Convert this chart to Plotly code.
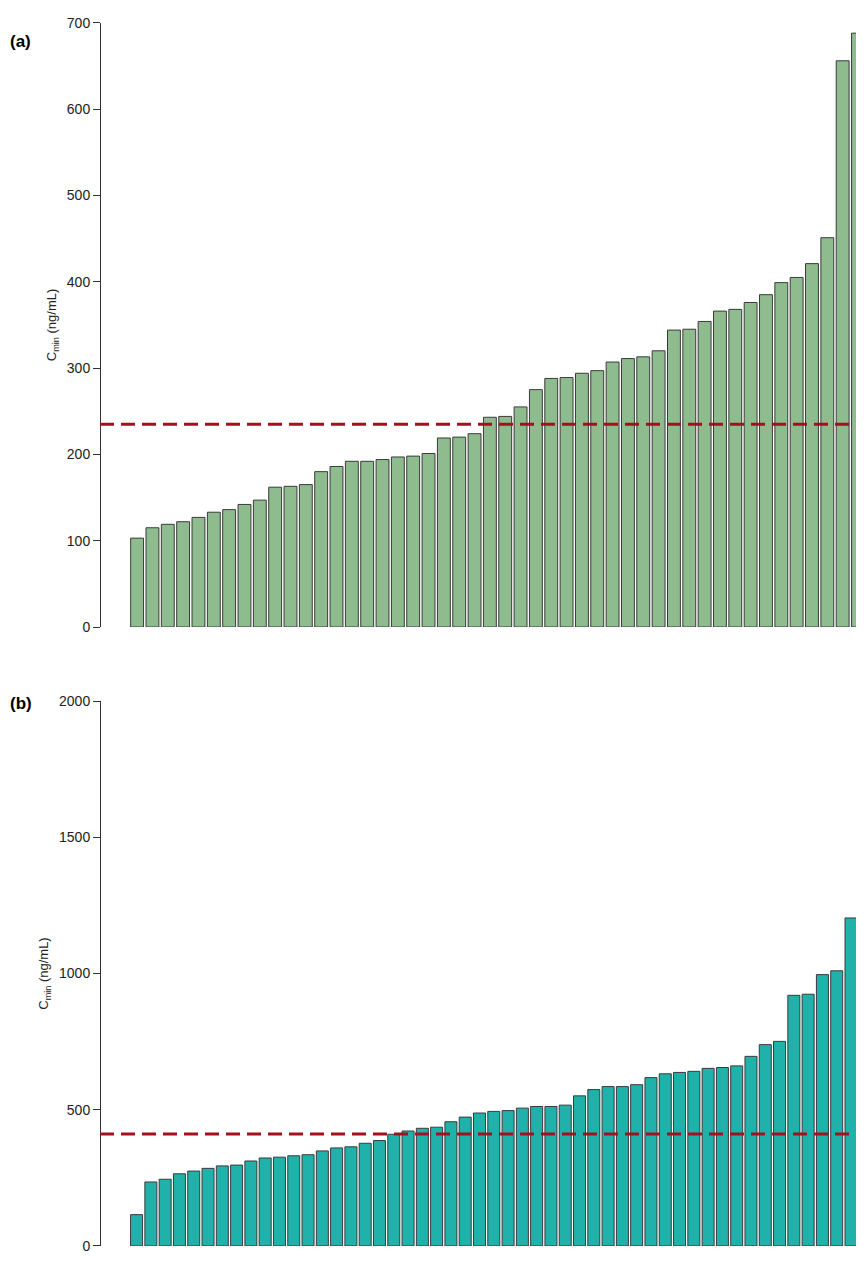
import plotly.graph_objects as go

cmin_a = [103, 115, 119, 122, 127, 133, 136, 142, 147, 162, 163, 165, 180, 186, 192, 192,
          194, 197, 198, 201, 219, 220, 224, 243, 244, 255, 275, 288, 289, 294, 297, 307,
          311, 313, 320, 344, 345, 354, 366, 368, 376, 385, 399, 405, 421, 451, 656, 688]
cmin_b = [115, 235, 245, 265, 275, 285, 294, 297, 312, 323, 326, 331, 335, 349, 360, 364,
          377, 387, 410, 422, 432, 436, 456, 473, 488, 494, 497, 506, 512, 512, 517, 551,
          574, 585, 585, 592, 618, 632, 637, 641, 652, 655, 661, 696, 739, 751, 920, 924,
          996, 1010, 1204]
thr_a = 235
thr_b = 411

W, H = 848, 1246


def py(s):
    # screen pixel row -> paper fraction (page margin and slight scaling measured)
    return 1 - (s - 16.2) / 0.9868 / H


fig = go.Figure()
fig.add_trace(go.Bar(x=list(range(1, len(cmin_a) + 1)), y=cmin_a, width=0.84,
                     marker=dict(color="#8FBC8F", line=dict(color="#3a3a3a", width=1)),
                     xaxis="x", yaxis="y"))
fig.add_trace(go.Bar(x=list(range(1, len(cmin_b) + 1)), y=cmin_b, width=0.84,
                     marker=dict(color="#20B2AA", line=dict(color="#3a3a3a", width=1)),
                     xaxis="x2", yaxis="y2"))

for xa, ya, thr in [("x", "y", thr_a), ("x2", "y2", thr_b)]:
    fig.add_shape(type="line", xref=xa + " domain", yref=ya, x0=0, x1=1, y0=thr, y1=thr,
                  line=dict(color="#A50F1E", width=3, dash="14px,7px"))

fam = "Liberation Sans, Arial"
font = dict(family=fam, size=14, color="#222")
yax = dict(showgrid=False, zeroline=False, showline=True, linecolor="#333", ticks="outside",
           ticklen=7, tickcolor="#333", tickfont=font, anchor="free", position=0,
           title=dict(text="C<sub>min</sub> (ng/mL)", font=dict(family=fam, size=13, color="#222"), standoff=6))
xax = dict(showgrid=False, zeroline=False, showline=False, showticklabels=False, ticks="")

fig.update_layout(
    width=W, height=H, margin=dict(l=92, r=0, t=0, b=0),
    plot_bgcolor="white", paper_bgcolor="white", showlegend=False,
    xaxis=dict(xax, domain=[0, 1], range=[-1.42, 47.87], anchor="y"),
    xaxis2=dict(xax, domain=[0, 1], range=[-1.56, 51.35], anchor="y2"),
    yaxis=dict(yax, domain=[py(627), py(23)], range=[0, 700], dtick=100),
    yaxis2=dict(yax, domain=[max(py(1250), 0), py(701)], range=[0, 2000], dtick=500),
    annotations=[
        dict(text="<b>(a)</b>", x=0, y=py(30), xref="paper", yref="paper", xshift=-92,
             xanchor="left", showarrow=False, font=dict(family=fam, size=17, color="black")),
        dict(text="<b>(b)</b>", x=0, y=py(703), xref="paper", yref="paper", xshift=-92,
             xanchor="left", showarrow=False, font=dict(family=fam, size=17, color="black")),
    ],
)
fig.write_html("out.html")
